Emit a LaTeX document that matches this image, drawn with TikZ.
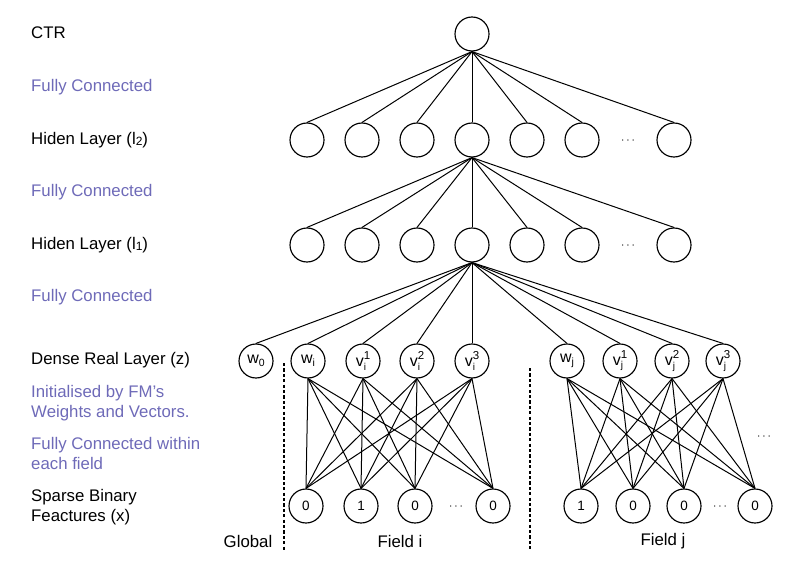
\documentclass[tikz,border=0pt]{standalone}
\usepackage{fontspec}
\setmainfont{Liberation Sans}
\definecolor{lblue}{HTML}{6E6AB8}
\newcommand{\subsup}[3]{#1\makebox[0pt][l]{\raisebox{-0.4ex}{\fontsize{10bp}{11bp}\selectfont #2}}\raisebox{0.8ex}{\fontsize{11.5bp}{12bp}\selectfont #3}}
\newcommand{\subonly}[2]{#1\raisebox{-0.3ex}{\fontsize{10.5bp}{11bp}\selectfont #2}}
\newcommand{\lsub}[2]{#1\raisebox{-0.1ex}{\fontsize{12bp}{13bp}\selectfont #2}}
\begin{document}
\begin{tikzpicture}[x=1bp,y=-1bp,
  neuron/.style={circle,draw,minimum size=34bp,inner sep=0pt,line width=1.15bp,font=\fontsize{16bp}{18bp}\selectfont},
  bitnode/.style={neuron,font=\fontsize{13.5bp}{15bp}\selectfont},
  conn/.style={line width=1bp},
  sep/.style={line width=1.1bp,dash pattern=on 3.2bp off 2.2bp},
  lbl/.style={anchor=west,inner sep=0pt,align=left,font=\fontsize{16.8bp}{20bp}\selectfont},
  plbl/.style={lbl,text=lblue},
  flbl/.style={inner sep=0pt,font=\fontsize{16.8bp}{20bp}\selectfont},
  dots/.style={inner sep=0pt,font=\fontsize{13bp}{15bp}\selectfont}]
\useasboundingbox (0,0) rectangle (800,576);

% left labels
\node[lbl]  (tctr) at (31,33)  {CTR};
\node[plbl] (tfc3) at (31,87)  {Fully Connected};
\node[lbl]  (th2)  at (31,140) {Hiden Layer (\lsub{l}{2})};
\node[plbl] (tfc2) at (31,192) {Fully Connected};
\node[lbl]  (th1)  at (31,245) {Hiden Layer (\lsub{l}{1})};
\node[plbl] (tfc1) at (31,297) {Fully Connected};
\node[lbl]  (tz)   at (31,360) {Dense Real Layer (z)};
\node[plbl] (tinit) at (31,403) {Initialised by FM’s\\Weights and Vectors.};
\node[plbl] (tfcw) at (31,453) {Fully Connected within\\each field};
\node[lbl]  (tx)   at (31,507) {Sparse Binary\\Feactures (x)};

% CTR
\node[neuron] (ctr) at (472,34) {};

% hidden layers
\foreach \i/\x in {1/307,2/362,3/417,4/472,5/527,6/582,7/674} {
  \node[neuron] (h2\i) at (\x,140) {};
  \node[neuron] (h1\i) at (\x,245) {};
}
\node[dots] (dh2) at (628,141) {$\cdots$};
\node[dots] (dh1) at (628,246) {$\cdots$};

% dense layer
\node[neuron] (w0)  at (256,361) {\subonly{w}{0}};
\node[neuron] (wi)  at (308,361) {\subonly{w}{i}};
\node[neuron] (vi1) at (363,361) {\subsup{v}{i}{1}};
\node[neuron] (vi2) at (417,361) {\subsup{v}{i}{2}};
\node[neuron] (vi3) at (472,361) {\subsup{v}{i}{3}};
\node[neuron] (wj)  at (567,361) {\subonly{w}{j}};
\node[neuron] (vj1) at (620,361) {\subsup{v}{j}{1}};
\node[neuron] (vj2) at (672,361) {\subsup{v}{j}{2}};
\node[neuron] (vj3) at (723,361) {\subsup{v}{j}{3}};
\node[dots] (dz) at (764,437) {$\cdots$};

% sparse layer
\node[bitnode] (si1) at (306,506) {0};
\node[bitnode] (si2) at (361,506) {1};
\node[bitnode] (si3) at (415,506) {0};
\node[bitnode] (si4) at (493,506) {0};
\node[dots] (dsi) at (456,507) {$\cdots$};
\node[bitnode] (sj1) at (581,506) {1};
\node[bitnode] (sj2) at (633,506) {0};
\node[bitnode] (sj3) at (684,506) {0};
\node[bitnode] (sj4) at (755,506) {0};
\node[dots] (dsj) at (720,507) {$\cdots$};

% connections
\foreach \i in {1,...,7} \draw[conn] (ctr.south) -- (h2\i.north);
\foreach \i in {1,...,7} \draw[conn] (h24.south) -- (h1\i.north);
\foreach \n in {w0,wi,vi1,vi2,vi3,wj,vj1,vj2,vj3} \draw[conn] (h14.south) -- (\n.north);
\foreach \a in {wi,vi1,vi2,vi3} \foreach \b in {si1,si2,si3,si4} \draw[conn] (\a.south) -- (\b.north);
\foreach \a in {wj,vj1,vj2,vj3} \foreach \b in {sj1,sj2,sj3,sj4} \draw[conn] (\a.south) -- (\b.north);

% separators
\coordinate (s1t) at (284,363);
\coordinate (s1b) at (284,550);
\coordinate (s2t) at (530,368);
\coordinate (s2b) at (530,550);
\draw[sep] (s1t) -- (s1b);
\draw[sep] (s2t) -- (s2b);

% field labels
\node[flbl] (tglob) at (248,541) {Global};
\node[flbl] (tfi)   at (400,541) {Field i};
\node[flbl] (tfj)   at (663,541) {Field j};
\end{tikzpicture}
\end{document}
